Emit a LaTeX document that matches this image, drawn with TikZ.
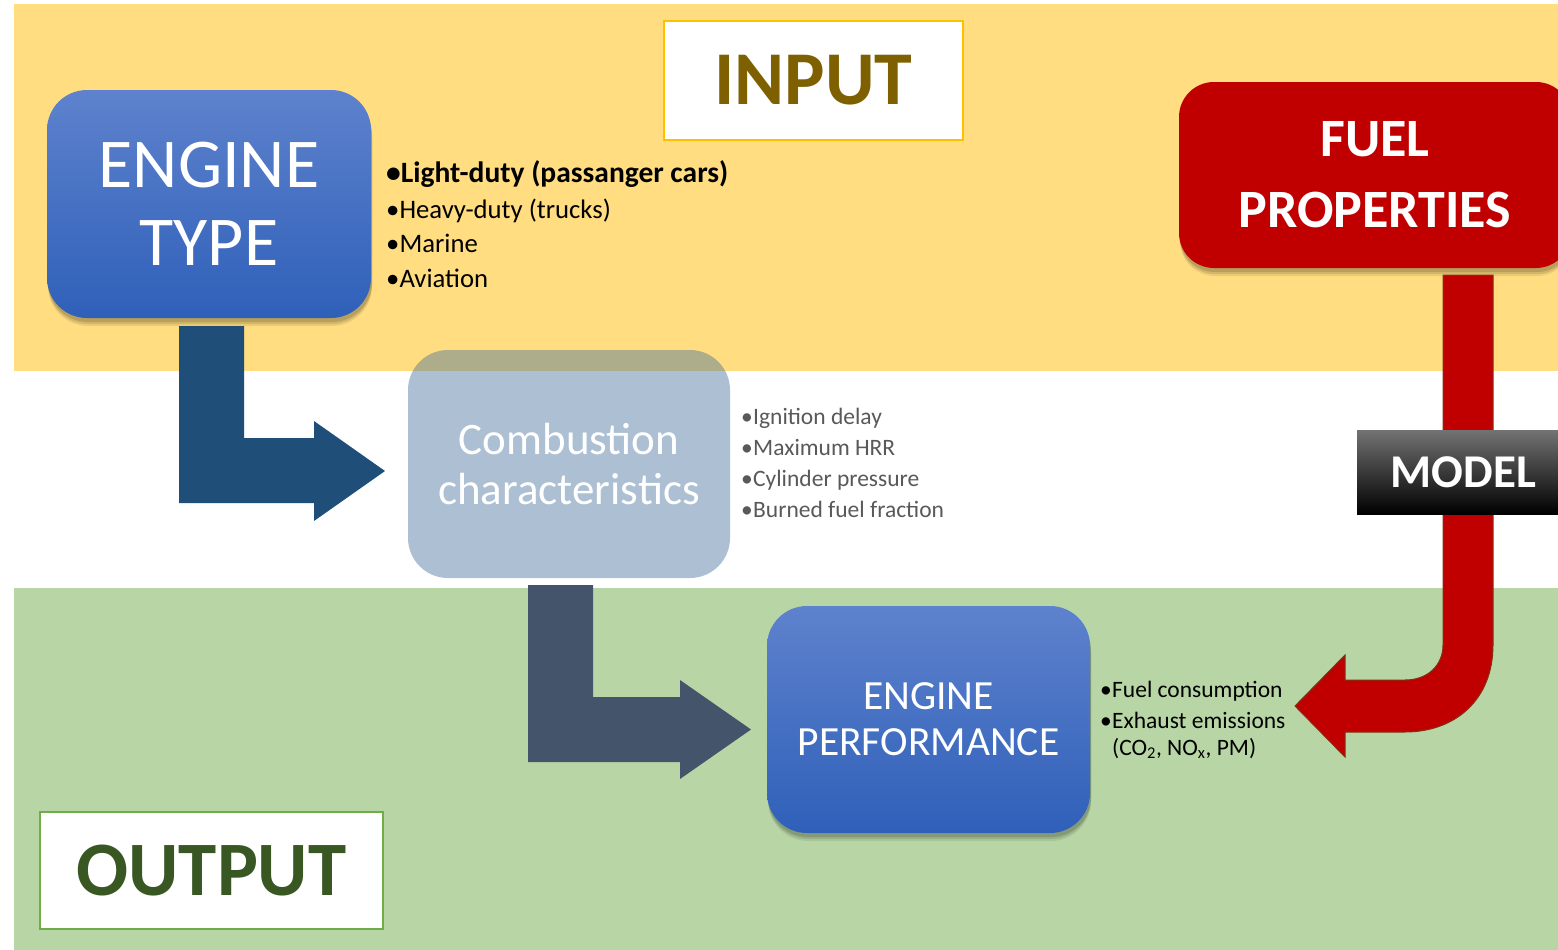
\documentclass[tikz,border=0pt]{standalone}
\usepackage{fontspec}
\setmainfont{Carlito}
\usetikzlibrary{shadows,calc}
\definecolor{bandyellow}{RGB}{255,221,128}
\definecolor{bandgreen}{RGB}{184,214,165}
\definecolor{boxbluetop}{RGB}{94,130,205}
\definecolor{boxbluebot}{RGB}{47,96,185}
\definecolor{fuelred}{RGB}{192,0,0}
\definecolor{inputgold}{RGB}{127,96,0}
\definecolor{inputborder}{RGB}{255,192,0}
\definecolor{outgreen}{RGB}{56,87,35}
\definecolor{outborder}{RGB}{112,173,71}
\definecolor{arrowone}{RGB}{31,78,121}
\definecolor{arrowtwo}{RGB}{68,84,106}
\definecolor{combfill}{RGB}{69,112,155}
\definecolor{listgrey}{RGB}{89,89,89}
\definecolor{rededge}{RGB}{130,50,20}
\tikzset{
  boxshadow/.style={
    drop shadow={shadow xshift=1pt,shadow yshift=-8pt,shadow scale=1.0,opacity=0.08,fill=black},
    drop shadow={shadow xshift=1pt,shadow yshift=-6pt,opacity=0.10,fill=black},
    drop shadow={shadow xshift=1pt,shadow yshift=-4pt,opacity=0.12,fill=black}},
  bluebox/.style={rounded corners=40pt, top color=boxbluetop, bottom color=boxbluebot,
    boxshadow, text=white, align=center, inner sep=0pt},
  labelbox/.style={fill=white, line width=2pt, inner sep=0pt},
  listitem/.style={anchor=base west, inner sep=0pt}
}
\newcommand{\hb}{\makebox[12pt][l]{•}}
\begin{document}
\begin{tikzpicture}[x=1pt,y=-1pt]
\useasboundingbox (0,0) rectangle (1558,950);
\fill[white] (0,0) rectangle (1558,950);
% bands
\fill[bandyellow] (14,4) rectangle (1558,371);
\fill[bandgreen] (14,588) rectangle (1558,950);

% label boxes
\node[labelbox, draw=inputborder, minimum width=299pt, minimum height=119pt,
      text=inputgold, font=\bfseries\fontsize{76}{76}\selectfont] (input) at (813.5,80.5) {INPUT};
\node[labelbox, draw=outborder, minimum width=343pt, minimum height=117pt,
      text=outgreen, font=\bfseries\fontsize{77}{77}\selectfont] (output) at (211.5,870.5) {OUTPUT};

% block arrows
\fill[arrowone] (179,326) -- (244,326) -- (244,438) -- (314,438) -- (314,421)
  -- (385,471) -- (314,521) -- (314,503) -- (179,503) -- cycle;
\fill[arrowtwo] (528,585) -- (593,585) -- (593,697) -- (680,697) -- (680,680)
  -- (751,729.5) -- (680,779) -- (680,762) -- (528,762) -- cycle;

% main boxes
\node[bluebox, minimum width=324pt, minimum height=228pt,
      font=\fontsize{70}{78}\selectfont] (etype) at (209,204) {ENGINE\\TYPE};
\node[rounded corners=35pt, fill=fuelred, boxshadow, minimum width=392pt, minimum height=186pt,
      text=white, align=center, inner sep=0pt,
      font=\bfseries\fontsize{54}{71}\selectfont] (fuel) at (1375,175) {FUEL\\PROPERTIES};
\node[rounded corners=40pt, fill=combfill, fill opacity=0.44, text opacity=1,
      minimum width=322pt, minimum height=228pt, text=white, align=center, inner sep=0pt,
      font=\fontsize{45}{50}\selectfont] (comb) at (569,464) {Combustion\\characteristics};
\node[bluebox, minimum width=323pt, minimum height=227pt,
      font=\fontsize{41.5}{46}\selectfont] (eperf) at (928.5,719.5) {ENGINE\\PERFORMANCE};

% red curved arrow
\filldraw[fill=fuelred, draw=rededge, line width=1pt]
  (1443,275) -- (1493,275) -- (1493,645) .. controls (1493,700) and (1455,732) .. (1405,732)
  -- (1345,732) -- (1345,757) -- (1295,706) -- (1345,655) -- (1345,680) -- (1405,680)
  .. controls (1428,680) and (1443,665) .. (1443,645) -- cycle;

% model box
\node[top color=black!55, middle color=black, bottom color=black, minimum width=213pt,
      minimum height=84pt, inner sep=0pt, text=white,
      font=\bfseries\fontsize{47}{47}\selectfont] (model) at (1463.5,472) {MODEL};

% engine type list
\node[listitem, font=\bfseries\fontsize{29.5}{29.5}\selectfont] (lt1) at (386,182) {•Light-duty (passanger cars)};
\node[listitem, font=\fontsize{26.7}{26.7}\selectfont] (lt2) at (386,218.5) {•Heavy-duty (trucks)};
\node[listitem, font=\fontsize{26.7}{26.7}\selectfont] (lt3) at (386,252.5) {•Marine};
\node[listitem, font=\fontsize{26.7}{26.7}\selectfont] (lt4) at (386,287.5) {•Aviation};

% combustion list
\node[listitem, text=listgrey, font=\fontsize{23.5}{23.5}\selectfont] (cb1) at (741,424) {\hb Ignition delay};
\node[listitem, text=listgrey, font=\fontsize{23.5}{23.5}\selectfont] (cb2) at (741,455) {\hb Maximum HRR};
\node[listitem, text=listgrey, font=\fontsize{23.5}{23.5}\selectfont] (cb3) at (741,486) {\hb Cylinder pressure};
\node[listitem, text=listgrey, font=\fontsize{23.5}{23.5}\selectfont] (cb4) at (741,517) {\hb Burned fuel fraction};

% performance list
\node[listitem, font=\fontsize{23.5}{23.5}\selectfont] (pf1) at (1100,697) {\hb Fuel consumption};
\node[listitem, font=\fontsize{23.5}{23.5}\selectfont] (pf2) at (1100,728) {\hb Exhaust emissions};
\node[listitem, font=\fontsize{23.5}{23.5}\selectfont] (pf3) at (1112,755) {(CO\textsubscript{2}, NO\textsubscript{x}, PM)};
\end{tikzpicture}
\end{document}
